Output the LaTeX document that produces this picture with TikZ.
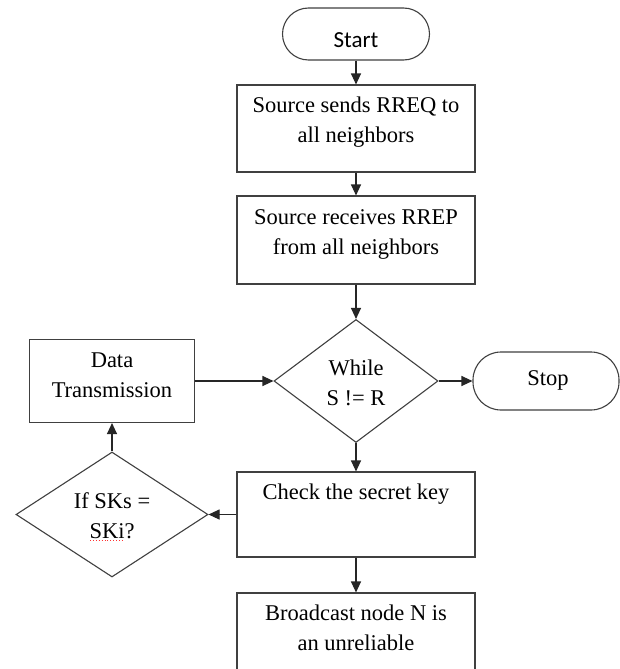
\documentclass[tikz,border=0pt]{standalone}
\usepackage{fontspec}
\setmainfont{Liberation Serif}
\newfontfamily\calibfont{Carlito}
\usetikzlibrary{arrows.meta,shapes.geometric}
\begin{document}
\begin{tikzpicture}[x=1pt,y=-1pt,
  shapeline/.style={draw=black!75, line width=1.1pt},
  box/.style={shapeline, rectangle, inner sep=0pt},
  term/.style={shapeline, rectangle, inner sep=0pt},
  dec/.style={shapeline, diamond, inner sep=0pt},
  txt/.style={align=center, font=\fontsize{22.5}{30}\selectfont, inner sep=0pt},
  flow/.style={draw=black!85, line width=1.1pt, -{Triangle[length=11pt,width=10pt]}}
]
\useasboundingbox (0,0) rectangle (620,669);
\clip (0,0) rectangle (620,669);
\fill[white] (0,0) rectangle (620,669);

\node[term, rounded corners=26pt, minimum width=147pt, minimum height=52pt] (start) at (356,34) {};
\node[txt, font=\calibfont\fontsize{23}{26}\selectfont] (tstart) at (356,40) {Start};

\node[box, minimum width=238pt, minimum height=87pt] (b1) at (356,128.5) {};
\node[txt] (t1) at (356,122) {Source sends RREQ to\\all neighbors};

\node[box, minimum width=238pt, minimum height=88pt] (b2) at (356,240) {};
\node[txt] (t2) at (356,234) {Source receives RREP\\from all neighbors};

\node[dec, minimum width=164pt, minimum height=123pt] (w) at (356,381) {};
\node[txt] (tw) at (356,383) {While\\S != R};

\node[term, rounded corners=28pt, minimum width=146pt, minimum height=58pt] (stop) at (546,381) {};
\node[txt] (tstop) at (548,380) {Stop};

\node[box, minimum width=165pt, minimum height=83pt] (data) at (112,381) {};
\node[txt] (tdata) at (112,375) {Data\\Transmission};

\node[box, minimum width=238pt, minimum height=85pt] (chk) at (356,514.5) {};
\node[txt] (tchk) at (356,494) {Check the secret key};

\node[dec, minimum width=192pt, minimum height=125pt] (sk) at (112,514.5) {};
\node[txt] (tsk) at (112,516) {If SKs =\\SKi?};
\draw[red!80, dotted, line width=0.9pt] (90,540) -- (122,540);

\node[box, minimum width=238pt, minimum height=100pt] (bc) at (356,643) {};
\node[txt] (tbc) at (356,628) {Broadcast node N is\\an unreliable};

\draw[flow] (start.south) -- (b1.north);
\draw[flow] (b1.south) -- (b2.north);
\draw[flow] (b2.south) -- (w.north);
\draw[flow] (w.south) -- (chk.north);
\draw[flow] (chk.south) -- (bc.north);
\draw[flow] (chk.west) -- (sk.east);
\draw[flow] (sk.north) -- (data.south);
\draw[flow] (data.east) -- (w.west);
\draw[flow] (w.east) -- (stop.west);
\end{tikzpicture}
\end{document}
